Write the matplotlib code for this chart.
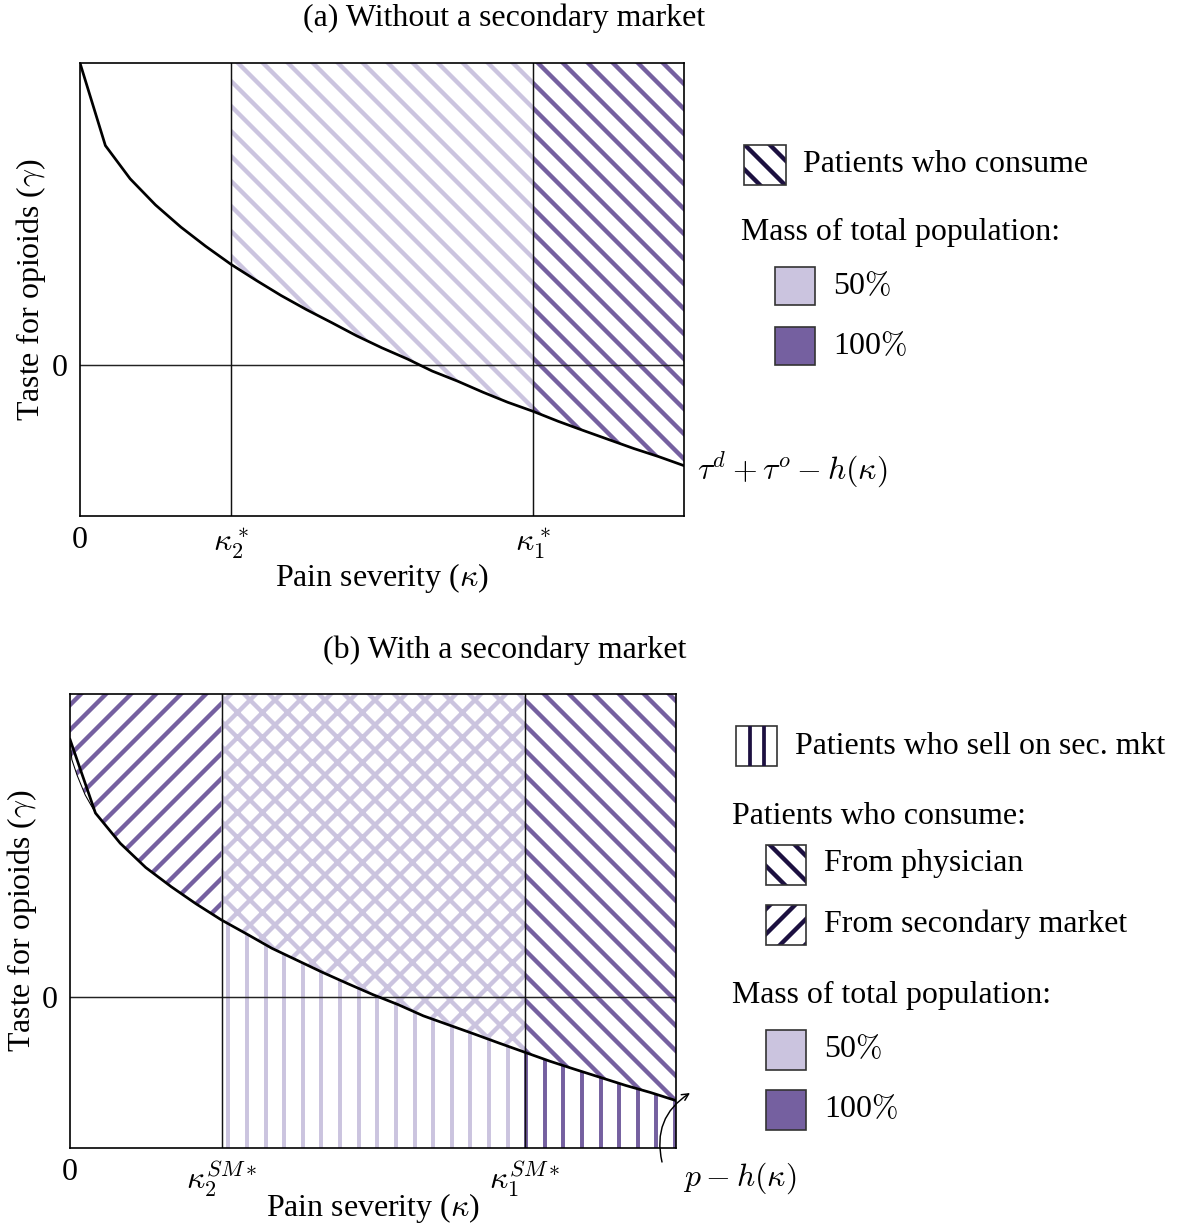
import numpy as np
import matplotlib
matplotlib.use('Agg')
import matplotlib.pyplot as plt
from matplotlib.patches import Rectangle

plt.rcParams['font.family'] = ['Liberation Serif', 'DejaVu Serif']
plt.rcParams['mathtext.fontset'] = 'cm'
plt.rcParams['hatch.linewidth'] = 2.1

W, H, DPI = 1184, 1228, 150

LIGHT = '#cbc4df'   # 50% of the population
DARK = '#7560a0'    # 100% of the population
NAVY = '#1c1040'    # legend hatch colour

# pain severity grid (kappa) shared by both panels
kappa = [0.0, 0.042, 0.083, 0.125, 0.167, 0.208, 0.25, 0.292, 0.333, 0.375,
         0.417, 0.458, 0.5, 0.542, 0.583, 0.625, 0.667, 0.708, 0.75, 0.792,
         0.833, 0.875, 0.917, 0.958, 1.0]

# (a) threshold tau^d + tau^o - h(kappa)
gamma_a = [3.0, 2.18, 1.85, 1.59, 1.37, 1.18, 1.0, 0.84, 0.69, 0.55,
           0.42, 0.29, 0.17, 0.06, -0.06, -0.16, -0.27, -0.37, -0.46, -0.56,
           -0.65, -0.74, -0.83, -0.91, -1.0]
k2_a, k1_a = 0.25, 0.75

# (b) threshold p - h(kappa)
gamma_b = [2.55, 1.82, 1.52, 1.28, 1.09, 0.92, 0.76, 0.62, 0.48, 0.36,
           0.24, 0.13, 0.02, -0.08, -0.19, -0.28, -0.37, -0.46, -0.55, -0.64,
           -0.72, -0.80, -0.88, -0.95, -1.03]
# finer edge of the threshold near kappa = 0
kappa_edge = [0.0, 0.003, 0.012, 0.025, 0.042]
gamma_edge = [2.55, 2.35, 2.19, 2.0, 1.82]
k2_b, k1_b = 0.25, 0.75

YLO, YHI = -1.5, 3.0
FS = 15.3


def px_axes(fig, l, t, r, b):
    return fig.add_axes([l / W, 1 - b / H, (r - l) / W, (b - t) / H])


def segment(k, g, lo, hi):
    k = np.asarray(k)
    g = np.asarray(g)
    m = (k >= lo - 1e-9) & (k <= hi + 1e-9)
    return k[m], g[m]


def hatch_above(ax, k, g, lo, hi, pattern, color):
    ks, gs = segment(k, g, lo, hi)
    ax.fill_between(ks, gs, YHI, facecolor='none', edgecolor=color,
                    hatch=pattern, linewidth=0, zorder=1)


def frame(ax, k, g, k2, k1, xt2, xt1):
    ax.set_xlim(0, 1)
    ax.set_ylim(YLO, YHI)
    ax.axhline(0, color='#222222', lw=0.7, zorder=2)
    for kk in (k2, k1):
        ax.axvline(kk, color='#111111', lw=0.7, zorder=2)
    ax.plot(k, g, color='black', lw=1.3, zorder=4)
    ax.set_xticks([0, k2, k1], ['0', xt2, xt1])
    ax.set_yticks([0], ['0'])
    ax.tick_params(length=0, labelsize=FS)
    ax.tick_params(axis='x', pad=5)
    ax.tick_params(axis='y', pad=6)
    for s in ax.spines.values():
        s.set_linewidth(0.8)


fig = plt.figure(figsize=(W / DPI, H / DPI), dpi=DPI)

# ---- (a) without a secondary market ----
ax_a = px_axes(fig, 80, 63, 684, 516)
hatch_above(ax_a, kappa, gamma_a, k2_a, k1_a, '\\\\', LIGHT)
hatch_above(ax_a, kappa, gamma_a, k1_a, 1.0, '\\\\', DARK)
frame(ax_a, kappa, gamma_a, k2_a, k1_a, r'$\kappa_2^*$', r'$\kappa_1^*$')

# ---- (b) with a secondary market ----
ax_b = px_axes(fig, 70, 694, 676, 1148)
ks, gs = segment(kappa, gamma_b, kappa_edge[-1], k2_b)
k_left = np.concatenate([kappa_edge, ks[1:]])
g_left = np.concatenate([gamma_edge, gs[1:]])
ax_b.fill_between(k_left, g_left, YHI, facecolor='none', edgecolor=DARK,
                  hatch='//', linewidth=0, zorder=1)
ax_b.plot(kappa_edge, gamma_edge, color='black', lw=0.5, zorder=4)
hatch_above(ax_b, kappa, gamma_b, k2_b, k1_b, 'xx', LIGHT)
hatch_above(ax_b, kappa, gamma_b, k1_b, 1.0, '\\\\', DARK)

# sellers: vertical stripes below the threshold
xs = np.arange(0.2615, 1.0, 0.0307)
tops = np.interp(xs, kappa, gamma_b)
light = xs < k1_b
ax_b.vlines(xs[light], YLO, tops[light], color=LIGHT, lw=1.9, zorder=1)
ax_b.vlines(xs[~light], YLO, tops[~light], color=DARK, lw=1.9, zorder=1)
frame(ax_b, kappa, gamma_b, k2_b, k1_b, r'$\kappa_2^{SM*}$', r'$\kappa_1^{SM*}$')

# ---- text and keys, placed in pixel coordinates ----
lay = fig.add_axes([0, 0, 1, 1])
lay.set_xlim(0, W)
lay.set_ylim(H, 0)
lay.axis('off')
lay.patch.set_visible(False)


def txt(x, y, s, **kw):
    kw.setdefault('ha', 'left')
    kw.setdefault('va', 'center')
    lay.text(x, y, s, fontsize=FS, **kw)


def key(x, y, w, h, face='white', hatch=None, vlines=None):
    lay.add_patch(Rectangle((x, y), w, h, facecolor=face, edgecolor='none'))
    if hatch:
        lay.add_patch(Rectangle((x, y), w, h, facecolor='none',
                                edgecolor=NAVY, hatch=hatch, linewidth=0))
    if vlines:
        for vx in vlines:
            lay.plot([x + vx, x + vx], [y, y + h], color=NAVY, lw=1.8,
                     solid_capstyle='butt')
    lay.add_patch(Rectangle((x, y), w, h, facecolor='none',
                            edgecolor='#333333', linewidth=0.8))


txt(504, 18, '(a) Without a secondary market', ha='center')
txt(382, 578, r'Pain severity ($\kappa$)', ha='center')
txt(31, 290, r'Taste for opioids ($\gamma$)', ha='center', rotation=90)
txt(697, 470, r'$\tau^d+\tau^o-h(\kappa)$')

key(744, 145, 42, 40, hatch='\\\\')
txt(803, 165, 'Patients who consume')
txt(741, 232, 'Mass of total population:')
key(775, 267, 40, 38, face=LIGHT)
txt(833, 287, r'50$\%$')
key(775, 327, 40, 38, face=DARK)
txt(833, 347, r'100$\%$')

txt(505, 650, '(b) With a secondary market', ha='center')
txt(373, 1208, r'Pain severity ($\kappa$)', ha='center')
txt(22, 921, r'Taste for opioids ($\gamma$)', ha='center', rotation=90)
txt(683, 1178, r'$p-h(\kappa)$')
lay.annotate('', xy=(690, 1093), xytext=(662, 1162),
             arrowprops=dict(arrowstyle='->', lw=0.7, color='black',
                             connectionstyle='arc3,rad=-0.35',
                             shrinkA=0, shrinkB=0, mutation_scale=8))

key(736, 726, 41, 40, vlines=[14, 28])
txt(795, 746, 'Patients who sell on sec. mkt')
txt(732, 817, 'Patients who consume:')
key(766, 845, 40, 40, hatch='\\\\')
txt(824, 864, 'From physician')
key(766, 905, 40, 40, hatch='//')
txt(824, 924, 'From secondary market')
txt(732, 995, 'Mass of total population:')
key(766, 1030, 40, 40, face=LIGHT)
txt(824, 1050, r'50$\%$')
key(766, 1090, 40, 40, face=DARK)
txt(824, 1110, r'100$\%$')

fig.savefig('out.png', dpi=DPI)
